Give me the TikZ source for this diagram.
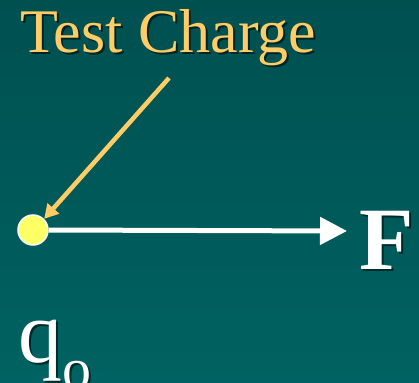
\documentclass[tikz,border=0pt]{standalone}
\usepackage{fontspec}
\setmainfont{Liberation Serif}
\usetikzlibrary{arrows.meta}
\definecolor{bgtop}{HTML}{005050}
\definecolor{bgbot}{HTML}{006262}
\definecolor{gold}{HTML}{FFCC66}
\definecolor{chg}{HTML}{FFFF66}
\tikzset{
  lbl/.style={inner sep=0pt, anchor=base west},
  shad/.style={lbl, text=black, opacity=0.55},
}
\newcommand{\qosym}{q\raisebox{-0.3em}{\fontsize{58}{58}\selectfont o}}
\begin{document}
\begin{tikzpicture}[x=1pt,y=-1pt]
\shade[top color=bgtop, bottom color=bgbot] (0,0) rectangle (419,382);
\useasboundingbox (0,0) rectangle (419,382);
% Test Charge
\node[shad, font=\fontsize{62}{62}\selectfont] at (22,55) {Test Charge};
\node[lbl, text=gold, font=\fontsize{62}{62}\selectfont] (tc) at (20,53) {Test Charge};
% charge
\node[circle, fill=chg, draw=white, line width=1.5pt, minimum size=30pt, inner sep=0pt] (q) at (33,230) {};
\coordinate (s) at (169,78);
\draw[gold, line width=4.5pt, -{Triangle[length=14pt,width=15pt]}] (s) -- (q.45);
% force arrow
\coordinate (fe) at (347,231);
\draw[white, line width=5pt, -{Triangle[length=27pt,width=27pt]}] (q.east) -- (fe);
\node[shad, font=\fontsize{89}{89}\bfseries] at (361,271) {F};
\node[lbl, text=white, font=\fontsize{89}{89}\selectfont\bfseries] (F) at (359,269) {F};
% q_o
\node[shad, font=\fontsize{88}{88}\selectfont] at (20,364) {\qosym};
\node[lbl, text=white, font=\fontsize{88}{88}\selectfont] (qo) at (18,362) {\qosym};
\end{tikzpicture}
\end{document}
